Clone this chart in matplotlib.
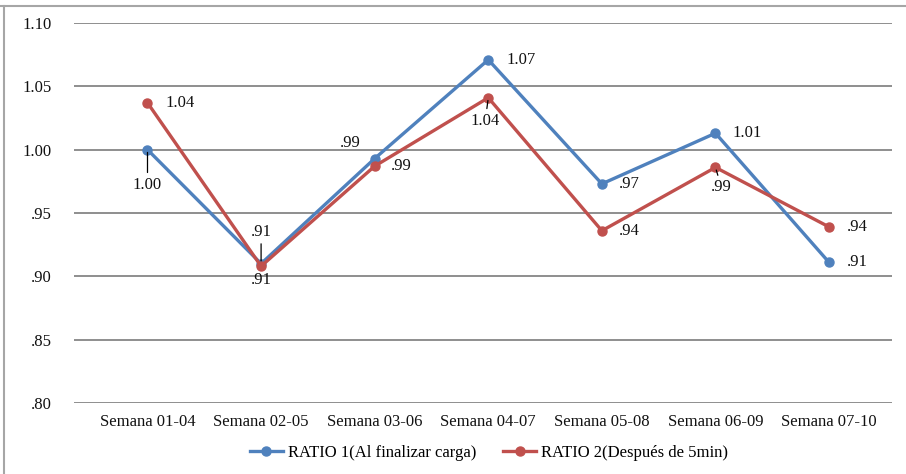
import matplotlib
matplotlib.use("Agg")
import matplotlib.pyplot as plt
from matplotlib.ticker import FixedLocator, FuncFormatter
from matplotlib.lines import Line2D

semanas = ["Semana 01-04", "Semana 02-05", "Semana 03-06", "Semana 04-07",
           "Semana 05-08", "Semana 06-09", "Semana 07-10"]
ratio1 = [1.000, 0.910, 0.993, 1.071, 0.973, 1.013, 0.911]
ratio2 = [1.037, 0.908, 0.987, 1.041, 0.936, 0.986, 0.939]
nombre1 = "RATIO 1(Al finalizar carga)"
nombre2 = "RATIO 2(Después de 5min)"
yticks = [0.80, 0.85, 0.90, 0.95, 1.00, 1.05, 1.10]

azul = "#4F81BD"
rojo = "#C0504D"
gris = "#868686"

plt.rcParams["font.family"] = ["Liberation Serif", "DejaVu Serif"]


def fmt(v):
    s = "%.2f" % v
    return s[1:] if s.startswith("0") else s


# offsets of each data label in pixels (dx, dy, ha, leader line)
pos1 = [(0, -35, "center", True), (0, 32, "center", True), (-24, 16, "center", False),
        (18, 0, "left", False), (17, 0, "left", False), (17, 0, "left", False),
        (18, 0, "left", False)]
pos2 = [(18, 0, "left", False), (0, -14, "center", False), (16, 0, "left", False),
        (-3, -23, "center", True), (17, 0, "left", False), (6, -20, "center", True),
        (18, 0, "left", False)]

fig = plt.figure(figsize=(9.06, 4.74), dpi=100)
ax = fig.add_axes([74 / 906, 1 - 403 / 474, 818 / 906, 380 / 474])

x = list(range(len(semanas)))
ax.plot(x, ratio1, color=azul, lw=2.4, marker="o", ms=6.5, zorder=3,
        solid_capstyle="round")
ax.plot(x, ratio2, color=rojo, lw=2.4, marker="o", ms=6.5, zorder=4,
        solid_capstyle="round")

for serie, pos in ((ratio1, pos1), (ratio2, pos2)):
    for i, v in enumerate(serie):
        dx, dy, ha, leader = pos[i]
        arrow = None
        if leader:
            arrow = dict(arrowstyle="-", color="black", lw=0.9,
                         shrinkA=1, shrinkB=2)
        ax.annotate(fmt(v), xy=(i, v), xytext=(dx, dy), textcoords="offset pixels",
                    ha=ha, va="center", fontsize=12, color="#111111",
                    arrowprops=arrow, zorder=5)

ax.set_xlim(-0.647, 6.554)
ax.set_ylim(0.80, 1.10)
ax.yaxis.set_major_locator(FixedLocator(yticks))
ax.yaxis.set_major_formatter(FuncFormatter(lambda v, p: fmt(v)))
ax.set_xticks(x)
ax.set_xticklabels(semanas)
ax.grid(axis="y", color=gris, lw=1.3)
ax.set_axisbelow(True)
for s in ax.spines.values():
    s.set_visible(False)
ax.tick_params(axis="both", length=0, labelsize=12, colors="#111111")
ax.tick_params(axis="y", pad=16)
ax.tick_params(axis="x", pad=8)

# outer frame: top and left edges only
fig.add_artist(Line2D([0, 1], [1 - 6 / 474, 1 - 6 / 474], color="#A6A6A6", lw=1.5))
fig.add_artist(Line2D([4 / 906, 4 / 906], [0, 1 - 6 / 474], color="#A6A6A6", lw=1.5))

handles = [Line2D([], [], color=azul, lw=2.4, marker="o", ms=6.5),
           Line2D([], [], color=rojo, lw=2.4, marker="o", ms=6.5)]
fig.legend(handles, [nombre1, nombre2], loc="center", bbox_to_anchor=(489 / 906, 1 - 453 / 474),
           ncol=2, frameon=False, fontsize=12, handlelength=2.0, handletextpad=0.3,
           columnspacing=1.6)

fig.savefig("out.png", dpi=100, facecolor="white")
